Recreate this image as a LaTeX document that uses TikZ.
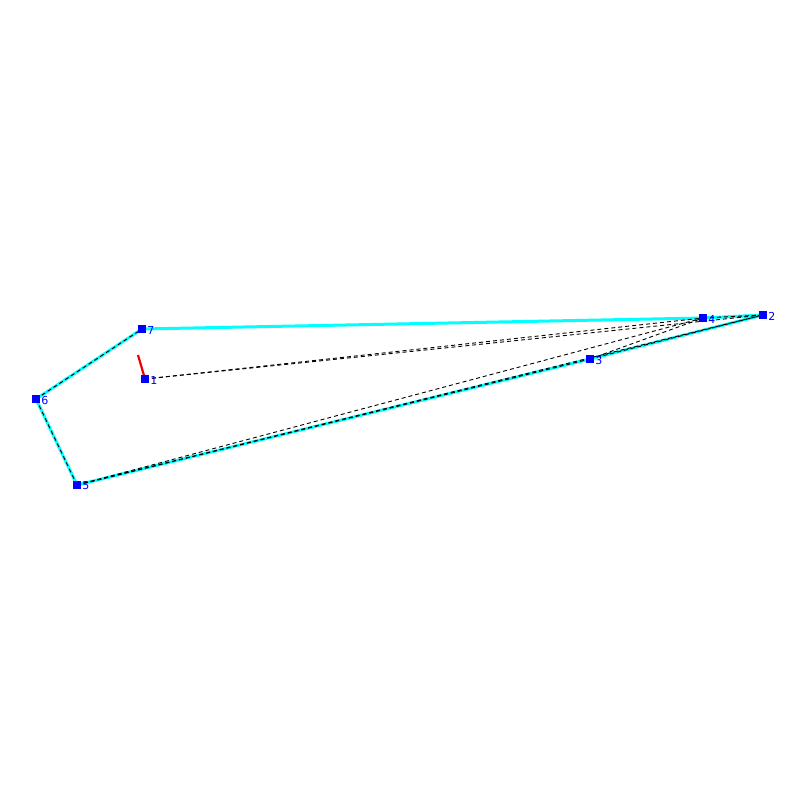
\documentclass[tikz,border=0pt]{standalone}
\usepackage{fontspec}
\setsansfont{DejaVu Sans}
\definecolor{hullcyan}{RGB}{0,255,255}
\definecolor{ptblue}{RGB}{0,0,255}
\definecolor{dirred}{RGB}{240,0,0}
\tikzset{
	pt/.style={fill=ptblue,minimum size=8pt,inner sep=0pt,
		label={[font=\sffamily\fontsize{11}{11}\selectfont,text=ptblue,inner sep=1pt,anchor=west,yshift=-1pt]east:#1}},
	hull/.style={hullcyan,line width=3pt},
	cand/.style={black,line width=0.9pt,dash pattern=on 4pt off 3pt},
	dir/.style={dirred,line width=2.2pt}
}
\begin{document}
\begin{tikzpicture}[x=1pt,y=-1pt]
	\useasboundingbox (0,0) rectangle (800,800);
	\coordinate (p1) at (145,379);
	\coordinate (p2) at (763,315);
	\coordinate (p3) at (590,359);
	\coordinate (p4) at (703,318);
	\coordinate (p5) at (77,485);
	\coordinate (p6) at (36,399);
	\coordinate (p7) at (142,329);
	\coordinate (d1) at (138,355);
	% hull
	\draw [hull] (p7) -- (p4) -- (p2) -- (p3) -- (p5) -- (p6) -- (p7);
	% candidates
	\draw [cand] (p1) -- (p4);
	\draw [cand] (p1) -- (p2);
	\draw [cand] (p5) -- (p4);
	\draw [cand] (p5) -- (p2);
	\draw [cand] (p3) -- (p4);
	\draw [cand] (p3) -- (p2);
	\draw [cand] (p4) -- (p2);
	\draw [cand] (p5) -- (p3);
	\draw [cand] (p5) -- (p6);
	\draw [cand] (p6) -- (p7);
	% direction
	\draw [dir] (p1) -- (d1);
	% points
	\node [pt=1] (n1) at (p1) {};
	\node [pt=2] (n2) at (p2) {};
	\node [pt=3] (n3) at (p3) {};
	\node [pt=4] (n4) at (p4) {};
	\node [pt=5] (n5) at (p5) {};
	\node [pt=6] (n6) at (p6) {};
	\node [pt=7] (n7) at (p7) {};
\end{tikzpicture}
\end{document}
